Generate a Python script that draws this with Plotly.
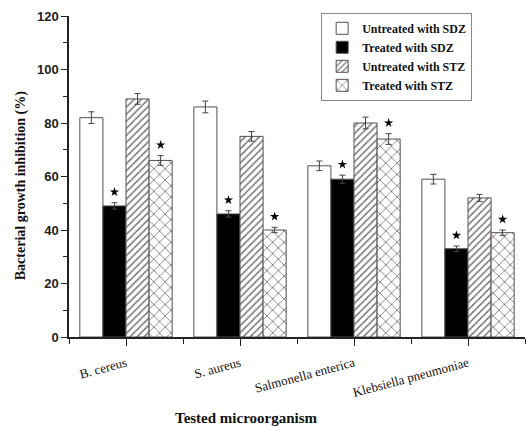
import plotly.graph_objects as go

categories = ["B. cereus", "S. aureus", "Salmonella enterica", "Klebsiella pneumoniae"]
series_names = ["Untreated with SDZ", "Treated with SDZ", "Untreated with STZ", "Treated with STZ"]

untreated_sdz = [82, 86, 64, 59]
treated_sdz = [49, 46, 59, 33]
untreated_stz = [89, 75, 80, 52]
treated_stz = [66, 40, 74, 39]

err_untreated_sdz = [2.2, 2.2, 1.8, 1.8]
err_treated_sdz = [1.2, 1.2, 1.5, 1.0]
err_untreated_stz = [2.0, 1.8, 2.2, 1.3]
err_treated_stz = [1.8, 1.0, 2.0, 1.0]

y_ticks = [0, 20, 40, 60, 80, 100, 120]

values = [untreated_sdz, treated_sdz, untreated_stz, treated_stz]
errors = [err_untreated_sdz, err_treated_sdz, err_untreated_stz, err_treated_stz]
significant = [False, True, False, True]

x = list(range(len(categories)))
bargap = 0.19
nser = len(values)
bw = (1 - bargap) / nser

outline = "#5a4e4e"
hatch = "#777777"
styles = [
    dict(color="white", pattern=None),
    dict(color="black", pattern=None),
    dict(color="white", pattern=dict(shape="/", fgcolor=hatch, bgcolor="white", size=5, solidity=0.3)),
    dict(color="white", pattern=dict(shape="x", fgcolor=hatch, bgcolor="white", size=8, solidity=0.2)),
]

fig = go.Figure()
for i, (name, vals, errs, st) in enumerate(zip(series_names, values, errors, styles)):
    marker = dict(color=st["color"], line=dict(color=outline, width=1))
    if st["pattern"]:
        marker["pattern"] = st["pattern"]
    fig.add_trace(go.Bar(
        x=x, y=vals, name=name, marker=marker,
        error_y=dict(type="data", array=errs, visible=True, color="#444", thickness=1, width=3),
    ))

# significance stars above error bars
for i, (vals, errs, sig) in enumerate(zip(values, errors, significant)):
    if not sig:
        continue
    offset = -0.5 * (1 - bargap) + (i + 0.5) * bw
    fig.add_trace(go.Scatter(
        x=[xi + offset for xi in x],
        y=[v + e + 4 for v, e in zip(vals, errs)],
        mode="markers", marker=dict(symbol="star", size=7, color="black"),
        showlegend=False, hoverinfo="skip",
    ))

serif = "Liberation Serif"
fig.update_layout(
    template="none",
    width=526, height=427,
    margin=dict(l=69, r=1, t=16, b=90, autoexpand=False),
    paper_bgcolor="white", plot_bgcolor="white",
    barmode="group", bargap=bargap, bargroupgap=0,
    showlegend=True,
    legend=dict(
        x=0.553, y=1.01, xanchor="left", yanchor="top",
        bgcolor="white", bordercolor="#888", borderwidth=1,
        font=dict(family=serif, size=12, color="#111", weight="bold"),
        tracegroupgap=0,
    ),
    xaxis=dict(
        range=[-0.5, 3.5], tickmode="array", tickvals=x, ticktext=categories,
        tickangle=-15, ticks="outside", ticklen=7, tickwidth=1, tickcolor="#222",
        tickfont=dict(family=serif, size=13, color="#111"),
        ticklabelstandoff=5,
        showline=True, linecolor="#222", linewidth=1.5, showgrid=False, zeroline=False,
        automargin=False,
        minor=dict(tickmode="array", tickvals=[-0.5, 0.5, 1.5, 2.5, 3.5],
                   ticks="outside", ticklen=5, tickwidth=1, tickcolor="#222", showgrid=False),
    ),
    yaxis=dict(
        range=[0, 120], tickmode="array", tickvals=y_ticks,
        ticks="outside", ticklen=6, tickwidth=1, tickcolor="#222",
        tickfont=dict(family="Liberation Sans", size=13, color="#222", weight="bold"),
        showline=True, linecolor="#222", linewidth=1.5, showgrid=False, zeroline=False,
        automargin=False,
        minor=dict(dtick=10, ticks="outside", ticklen=4, tickwidth=1, tickcolor="#222", showgrid=False),
    ),
    annotations=[
        dict(text="<b>Bacterial growth inhibition (%)</b>", xref="paper", yref="paper",
             x=-0.105, y=0.47, xanchor="center", yanchor="middle", textangle=-90,
             showarrow=False, font=dict(family=serif, size=14, color="#111")),
        dict(text="<b>Tested microorganism</b>", xref="paper", yref="paper",
             x=(246 - 69) / 456, y=-(418 - 337) / 321, xanchor="center", yanchor="middle",
             showarrow=False, font=dict(family=serif, size=15, color="#111")),
    ],
)

fig.write_html("out.html", config={"displayModeBar": False},
               post_script="document.body.style.margin='0';document.body.style.padding='0';")
